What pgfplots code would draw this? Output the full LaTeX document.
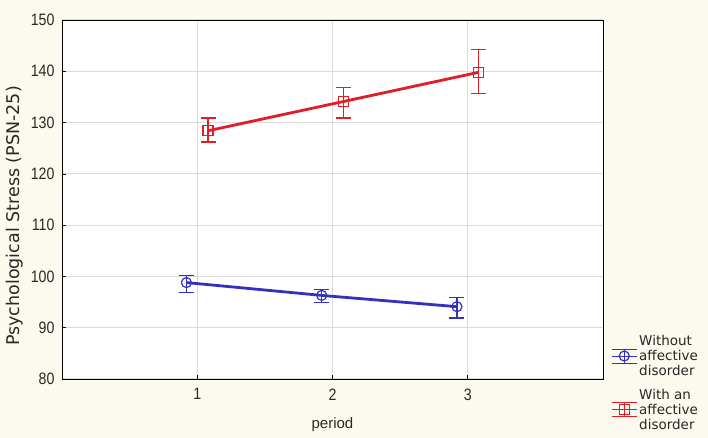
\documentclass[border=0pt]{standalone}
\usepackage{fontspec}
\setmainfont{Liberation Sans}
\newfontfamily\narrowfont[FakeStretch=0.86]{Liberation Sans}
\newfontfamily\labelfont{DejaVu Sans}
\newfontfamily\legendfont{DejaVu Sans}
\usepackage{pgfplots}
\usepackage{pgfplotstable}
\pgfplotsset{compat=1.18}

\definecolor{bgcream}{RGB}{252,249,238}
\definecolor{serred}{RGB}{224,30,40}
\definecolor{serblue}{RGB}{50,50,190}
\definecolor{gridgray}{RGB}{218,218,218}
\definecolor{txt}{RGB}{40,40,40}

% period, mean, error up, error down (points are shifted a little off the period)
\pgfplotstableread{
x    y     ep   em
0.92 98.8  1.4  1.9
1.92 96.3  1.1  1.4
2.92 94.1  1.8  2.2
}\withoutdis

\pgfplotstableread{
x    y     ep   em
1.08 128.4 2.5  2.2
2.08 134.1 2.8  3.2
3.08 139.8 4.4  4.2
}\withdis

\begin{document}
\begin{tikzpicture}[x=1pt,y=1pt]
\fill[bgcream] (-62,-59) rectangle (646,379);
\begin{axis}[
  at={(0,0)}, anchor=south west,
  scale only axis, width=541pt, height=359pt,
  xmin=0, xmax=4, ymin=80, ymax=150,
  xtick={1,2,3}, ytick={80,90,...,150},
  grid=major, grid style={gridgray, line width=1.2pt},
  axis background/.style={fill=white},
  axis line style={black, line width=0.8pt},
  tick align=inside, xtick pos=bottom, ytick pos=left,
  major tick length=4pt, tick style={black, line width=0.6pt},
  /pgf/number format/assume math mode=true,
  ticklabel style={font=\narrowfont\fontsize{16.5}{18}\selectfont, text=txt},
  yticklabel style={xshift=-4pt},
  xticklabel style={yshift=-6pt},
  xlabel={period}, ylabel={Psychological Stress (PSN-25)},
  xlabel style={font=\fontsize{15}{17}\selectfont, text=txt,
    at={(axis description cs:0.5,-0.128)}, anchor=center},
  ylabel style={font=\labelfont\fontsize{17.5}{19}\selectfont, text=txt,
    at={(axis description cs:-0.087,0.454)}, anchor=center},
  legend style={at={(1.015,-0.15)}, anchor=south west, draw=none, fill=none,
    font=\legendfont\fontsize{13.5}{15}\selectfont, text=txt,
    cells={anchor=west, align=left}, row sep=8pt, inner sep=0pt},
  legend image code/.code={
    \draw[#1, line width=0.9pt] (0pt,7pt)--(25pt,7pt) (0pt,-7pt)--(25pt,-7pt)
      (12.5pt,-7pt)--(12.5pt,7pt);
    \draw[mark repeat=2, mark phase=2, #1, line width=0.9pt]
      plot coordinates {(0pt,0pt)(12.5pt,0pt)(25pt,0pt)};
  },
  error bars/y dir=both, error bars/y explicit,
  error bars/error bar style={line width=1.2pt},
  error bars/error mark options={rotate=90, mark size=7.5pt, line width=1.2pt},
]
\addplot[serblue, line width=2.8pt, mark=o, mark size=5pt,
  mark options={line width=1.2pt}]
  table[x=x, y=y, y error plus=ep, y error minus=em] {\withoutdis};
\addlegendentry{Without\\affective\\disorder}
\addplot[serred, line width=2.8pt, mark=square, mark size=5pt,
  mark options={line width=1.2pt}]
  table[x=x, y=y, y error plus=ep, y error minus=em] {\withdis};
\addlegendentry{With an\\affective\\disorder}
\end{axis}
\end{tikzpicture}
\end{document}
